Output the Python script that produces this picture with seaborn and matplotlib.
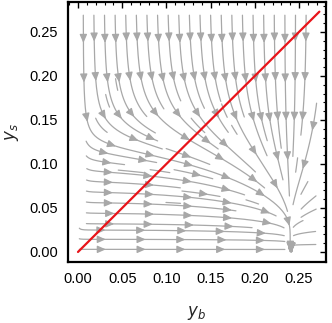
import matplotlib
matplotlib.use("Agg")
import matplotlib.pyplot as plt
import numpy as np
import pandas as pd
import seaborn as sns
from matplotlib.patches import FancyArrowPatch
from matplotlib.ticker import MultipleLocator, FormatStrFormatter

# flow parameters: everything drains to y_b ~ 0.24, y_s ~ 0,
# steep fall in y_s near the top, almost flat drift near the bottom,
# short hooks on the left edge
sink_yb = 0.24
ys_rate = 20.0
yb_offset = 0.01
top_rate = 5e3
top_power = 7
hook_rate = 0.8
hook_width = 0.005
field_lo, field_hi = 0.0, 0.27

# seeds for the stream lines: along the top edge, the left edge, then a coarse grid
seed_top_yb = np.arange(0.006, 0.266, 0.012)
seed_left_ys = np.arange(0.003, 0.2, 0.012)
seed_grid = np.arange(0.008, 0.27, 0.012)

# red diagonal y_s = y_b
diag = pd.DataFrame({"yb": [0.0, 0.273], "ys": [0.0, 0.273]})

tick_values = [0.00, 0.05, 0.10, 0.15, 0.20, 0.25]

stream_color = "#a8a8a8"
step = 0.0015
cell = 0.009
arrow_gap = 0.045


def vel(p):
    x, y = p
    u = x * (sink_yb - x)
    v = -(ys_rate * y * y * (x + yb_offset) ** 2
          + top_rate * y ** top_power
          + hook_rate * y * y * np.exp(-x / hook_width))
    return np.array([u, v])


def direction(p, sign):
    v = vel(p) * sign
    n = np.hypot(*v)
    if n < 1e-7:
        return None
    return v / n


ncell = int(np.ceil((field_hi - field_lo) / cell)) + 1
owner = -np.ones((ncell, ncell), dtype=int)


def cell_of(p):
    i = int((p[0] - field_lo) / cell)
    j = int((p[1] - field_lo) / cell)
    return i, j


def inside(p):
    return field_lo <= p[0] <= field_hi and field_lo <= p[1] <= field_hi


def trace(p0, sign, tid):
    pts = [np.array(p0, dtype=float)]
    for _ in range(600):
        p = pts[-1]
        d1 = direction(p, sign)
        if d1 is None:
            break
        mid = p + 0.5 * step * d1
        d2 = direction(mid, sign)
        if d2 is None:
            break
        q = p + step * d2
        if not inside(q):
            break
        if np.hypot(*vel(q)) < 2e-6:
            break
        i, j = cell_of(q)
        if owner[i, j] != -1 and owner[i, j] != tid:
            break
        owner[i, j] = tid
        pts.append(q)
    return np.array(pts)


# edge seeds run forward only, interior seeds both ways
seeds = [((x, field_hi - 0.001), False) for x in seed_top_yb]
seeds += [((0.0015, y), False) for y in seed_left_ys]
seeds += [((x, y), True) for y in seed_grid[::-1] for x in seed_grid]

lines = []
for s, both in seeds:
    i, j = cell_of(s)
    if owner[i, j] != -1:
        continue
    tid = len(lines)
    owner[i, j] = tid
    fwd = trace(s, 1, tid)
    if both:
        back = trace(s, -1, tid)
        line = np.vstack([back[::-1], fwd[1:]])
    else:
        line = fwd
    lines.append(line if len(line) > 8 else np.empty((0, 2)))

sns.set_theme(style="white")
plt.rcParams["font.family"] = ["Liberation Sans", "DejaVu Sans"]
plt.rcParams["mathtext.fontset"] = "dejavusans"

fig = plt.figure(figsize=(3.32, 3.23), dpi=100)
ax = fig.add_axes([68 / 332, 1 - 262 / 323, 258 / 332, 260 / 323])

for line in lines:
    if len(line) == 0:
        continue
    ax.plot(line[:, 0], line[:, 1], color=stream_color, linewidth=0.9,
            solid_capstyle="round")
    seg = np.hypot(*np.diff(line, axis=0).T)
    arc = np.concatenate([[0], np.cumsum(seg)])
    marks = np.arange(0.03, arc[-1] - 0.004, arrow_gap)
    for m in marks:
        k = np.searchsorted(arc, m)
        k0 = max(k - 4, 0)
        ax.add_patch(FancyArrowPatch(line[k0], line[k],
                                     arrowstyle="-|>,head_length=5,head_width=2.2",
                                     color=stream_color, linewidth=0.9,
                                     shrinkA=0, shrinkB=0, mutation_scale=1))

sns.lineplot(data=diag, x="yb", y="ys", ax=ax, color="#e8141a", linewidth=1.6,
             sort=False)

ax.set_xlim(-0.0113, 0.2805)
ax.set_ylim(-0.0114, 0.284)
ax.set_xticks(tick_values)
ax.set_yticks(tick_values)
ax.xaxis.set_major_formatter(FormatStrFormatter("%.2f"))
ax.yaxis.set_major_formatter(FormatStrFormatter("%.2f"))
ax.xaxis.set_minor_locator(MultipleLocator(0.01))
ax.yaxis.set_minor_locator(MultipleLocator(0.01))
ax.tick_params(which="both", direction="in", top=True, right=True, colors="black",
               labelsize=10.5)
ax.tick_params(which="major", length=4, width=1, pad=7)
ax.tick_params(which="minor", length=2, width=0.8)
for s in ax.spines.values():
    s.set_color("black")
    s.set_linewidth(1.6)

ax.set_xlabel("$y_b$", fontsize=12, labelpad=13)
ax.set_ylabel("$y_s$", fontsize=12, labelpad=6)

fig.savefig("out.png", dpi=100)
